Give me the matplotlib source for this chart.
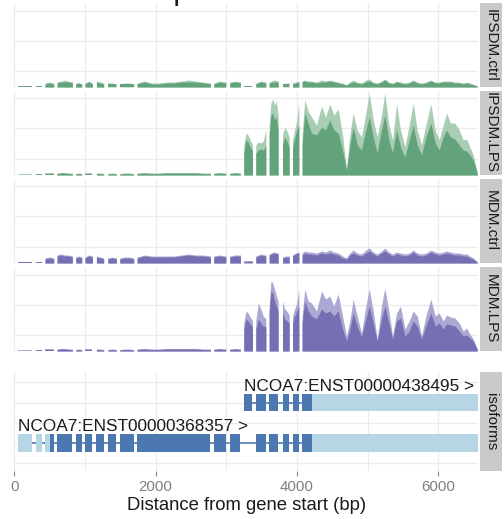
import numpy as np
import matplotlib.pyplot as plt

plt.rcParams['font.family'] = ['Liberation Sans', 'DejaVu Sans']

# covered exon blocks (bp from gene start), last exon handled separately
block_starts = [54, 304, 436, 606, 870, 1002, 1163, 1323, 1493, 1738, 2823, 3049, 3247, 3417, 3606, 3795, 3937]
block_ends = [258, 389, 559, 823, 955, 1106, 1266, 1446, 1691, 2776, 2993, 3200, 3370, 3559, 3733, 3889, 4026]

# knots along the last exon (3' UTR)
utr_pos = [4072, 4110, 4157, 4205, 4276, 4347, 4403, 4464, 4521, 4582, 4644, 4700, 4747, 4794, 4851,
           4912, 4974, 5021, 5078, 5134, 5195, 5242, 5299, 5351, 5408, 5464, 5526, 5587, 5644, 5700,
           5761, 5823, 5893, 5955, 6011, 6068, 6115, 6172, 6233, 6294, 6351, 6398, 6445, 6493, 6549]

# coverage per sample track: lower = shared core, upper = max replicate
ipsdm_ctrl_lower = [[1, 1, 1], [1, 1], [3, 4, 3], [4, 5, 5, 5, 4], [3, 4, 3], [3, 5, 3], [5, 4, 3], [3, 3, 3],
                    [3, 3, 3, 3], [3, 5, 3, 3, 4, 4, 5, 5, 5, 4, 3], [3, 5, 4], [4, 5, 4], [1, 1],
                    [3, 5, 4], [4, 5, 5], [3, 3, 3], [3, 4, 5]]
ipsdm_ctrl_upper = [[1, 1, 1], [1, 1], [4, 5, 4], [5, 6, 7, 6, 5], [4, 4, 3], [4, 6, 4], [6, 5, 4], [4, 4, 3],
                    [3, 4, 4, 3], [4, 6, 4, 4, 5, 5, 6, 7, 6, 5, 4], [4, 6, 5], [5, 6, 5], [1, 1],
                    [4, 6, 5], [5, 7, 6], [3, 4, 4], [4, 5, 6]]
ipsdm_ctrl_utr_lower = [5, 6, 5, 5, 4, 5, 5, 6, 5, 4, 3, 2, 4, 5, 4, 3, 5, 6, 4, 3, 5, 7, 4, 3, 5,
                        4, 3, 4, 6, 4, 3, 4, 6, 4, 4, 5, 5, 5, 4, 4, 3, 4, 3, 2, 1]
ipsdm_ctrl_utr_upper = [6, 7, 6, 6, 5, 7, 6, 7, 6, 5, 4, 2, 5, 7, 5, 4, 7, 8, 5, 4, 6, 8, 5, 4, 6,
                        5, 4, 5, 7, 5, 4, 5, 7, 5, 5, 6, 6, 6, 5, 5, 4, 5, 4, 3, 1]

ipsdm_lps_lower = [[0.5, 0.5, 0.5], [1, 1], [1.5, 1.5, 1.5], [1.5, 2, 2, 1.5, 1.5], [1, 1.5, 1], [1.5, 1.5, 1.5],
                   [1.5, 1.5, 1], [1, 1.5, 1], [1, 1.5, 1.5, 1], [1.5, 2, 1.5, 1.5, 2, 2, 2, 2, 2, 1.5, 1.5],
                   [1.5, 2, 1.5], [1.5, 2, 1.5], [22, 35, 33, 28, 24], [22, 25, 26, 25, 30],
                   [40, 60, 62, 55, 58, 45], [30, 38, 34, 28], [28, 36, 45, 50]]
ipsdm_lps_upper = [[1, 1, 1], [1, 1], [2, 2, 2], [2, 2.5, 2.5, 2, 2], [1.5, 2, 1.5], [2, 2, 2],
                   [2, 2, 1.5], [1.5, 2, 1.5], [1.5, 2, 2, 1.5], [2, 2.5, 2, 2, 2.5, 2.5, 2.5, 2.5, 2.5, 2, 2],
                   [2, 2.5, 2], [2, 2.5, 2], [30, 42, 40, 35, 30], [30, 33, 32, 34, 46],
                   [50, 72, 76, 70, 74, 60], [40, 48, 44, 38], [35, 45, 55, 72]]
ipsdm_lps_utr_lower = [30, 62, 52, 42, 40, 48, 45, 55, 45, 42, 25, 5, 30, 48, 30, 25, 45, 58, 38, 22, 45, 60, 35,
                       22, 45, 28, 18, 35, 50, 30, 20, 38, 52, 32, 25, 38, 45, 38, 36, 30, 25, 24, 20, 15, 2]
ipsdm_lps_utr_upper = [40, 75, 64, 58, 50, 69, 58, 71, 60, 66, 40, 6, 40, 62, 45, 38, 62, 82, 55, 38, 60, 82, 50,
                       35, 71, 45, 28, 50, 72, 45, 30, 50, 71, 45, 35, 50, 62, 52, 52, 45, 35, 36, 28, 20, 2]

mdm_ctrl_lower = [[1, 1, 1], [1, 1], [4, 5, 4], [7, 8, 7, 7, 6], [5, 6, 5], [5, 7, 6], [6, 5, 4], [4, 5, 4],
                  [4, 5, 5, 4], [5, 7, 6, 6, 6, 6, 7, 8, 7, 7, 6], [6, 7, 6], [6, 7, 7], [1, 2],
                  [6, 8, 7], [8, 10, 9], [5, 6, 6], [7, 9, 10]]
mdm_ctrl_upper = [[1, 1, 1], [1, 1], [5, 6, 5], [8, 9, 8, 8, 7], [6, 7, 6], [6, 8, 7], [7, 6, 5], [5, 6, 5],
                  [5, 6, 6, 5], [6, 8, 7, 7, 7, 7, 8, 9, 8, 8, 7], [7, 8, 7], [7, 8, 8], [2, 2],
                  [7, 9, 8], [9, 11, 10], [6, 7, 7], [8, 10, 11]]
mdm_ctrl_utr_lower = [8, 10, 9, 9, 8, 10, 9, 10, 9, 8, 5, 4, 8, 10, 8, 7, 10, 12, 9, 7, 10, 12, 9, 7, 9,
                      8, 7, 8, 11, 8, 7, 8, 11, 9, 8, 9, 10, 9, 8, 8, 7, 7, 5, 4, 1]
mdm_ctrl_utr_upper = [10, 12, 11, 11, 10, 12, 11, 13, 11, 10, 7, 5, 10, 13, 10, 9, 13, 15, 11, 9, 12, 15, 11, 9, 11,
                      10, 9, 10, 13, 10, 9, 10, 13, 11, 10, 11, 12, 11, 10, 10, 9, 9, 7, 5, 1]

mdm_lps_lower = [[0.5, 0.5, 0.5], [1, 1], [1.5, 1.5, 1.5], [1.5, 2, 2, 1.5, 1.5], [1, 1.5, 1], [1.5, 1.5, 1.5],
                 [1.5, 1.5, 1], [1, 1.5, 1], [1, 1.5, 1.5, 1], [1.5, 2, 1.5, 1.5, 2, 2, 2, 2, 2, 1.5, 1.5],
                 [1.5, 2, 1.5], [1.5, 2, 1.5], [22, 32, 30, 27, 24], [22, 32, 28, 25, 24],
                 [38, 60, 58, 50, 45, 40], [38, 32, 30, 28], [28, 35, 40, 45]]
mdm_lps_upper = [[1, 1, 1], [1, 1], [2, 2, 2], [2, 2.5, 2.5, 2, 2], [1.5, 2, 1.5], [2, 2, 2],
                 [2, 2, 1.5], [1.5, 2, 1.5], [1.5, 2, 2, 1.5], [2, 2.5, 2, 2, 2.5, 2.5, 2.5, 2.5, 2.5, 2, 2],
                 [2, 2.5, 2], [2, 2.5, 2], [28, 40, 38, 34, 30], [30, 48, 42, 35, 32],
                 [45, 70, 68, 62, 55, 50], [50, 42, 40, 36], [35, 42, 48, 62]]
mdm_lps_utr_lower = [28, 50, 40, 35, 32, 42, 38, 40, 35, 40, 22, 10, 22, 38, 25, 14, 32, 45, 28, 10, 32, 45, 28,
                     12, 30, 33, 15, 20, 30, 25, 12, 25, 38, 25, 28, 22, 27, 26, 25, 20, 15, 16, 13, 10, 2]
mdm_lps_utr_upper = [35, 62, 50, 48, 40, 60, 52, 55, 45, 57, 35, 15, 30, 52, 35, 18, 45, 62, 40, 12, 45, 63, 40,
                     15, 38, 45, 22, 30, 40, 35, 15, 35, 52, 35, 38, 30, 36, 34, 33, 28, 20, 23, 17, 12, 2]

track_names = ['IPSDM.ctrl', 'IPSDM.LPS', 'MDM.ctrl', 'MDM.LPS']

# isoform models (start, end) in bp
tx1_name = 'NCOA7:ENST00000368357 >'
tx1_utr = [(54, 258), (304, 389), (436, 502), (4214, 6554)]
tx1_cds = [(502, 559), (606, 823), (870, 955), (1002, 1106), (1163, 1266), (1323, 1446), (1493, 1691),
           (1738, 2776), (2823, 2993), (3049, 3200), (3417, 3559), (3606, 3733), (3795, 3889),
           (3937, 4026), (4072, 4214)]
tx2_name = 'NCOA7:ENST00000438495 >'
tx2_utr = [(4214, 6554)]
tx2_cds = [(3247, 3370), (3417, 3559), (3606, 3733), (3795, 3889), (3937, 4026), (4072, 4214)]

W, H = 504, 519
X0, X1 = 14.2, 478
XMAX = 6560
GRID = '#EBEBEB'
STRIP = '#C9C9C9'

green_dark, green_light = '#62A37C', '#A8CDB3'
purple_dark, purple_light = '#7570B3', '#ABA8D3'
cds_col, utr_col = '#4C78B1', '#B6D6E6'


def px_axes(fig, left, top, right, bottom, **kw):
    return fig.add_axes([left / W, 1 - bottom / H, (right - left) / W, (bottom - top) / H], **kw)


def add_strip(fig, top, bottom, label):
    sax = px_axes(fig, 480, top, 502, bottom)
    sax.set_facecolor(STRIP)
    sax.set_xticks([])
    sax.set_yticks([])
    for s in sax.spines.values():
        s.set_visible(False)
    sax.text(0.5, 0.5, label, rotation=270, ha='center', va='center',
             fontsize=11, color='#1A1A1A', transform=sax.transAxes)


def style_panel(ax):
    ax.set_xlim(0, XMAX)
    ax.set_xticks([0, 2000, 4000, 6000])
    ax.set_xticks([1000, 3000, 5000], minor=True)
    ax.grid(which='both', color=GRID, lw=0.9, zorder=0)
    ax.set_axisbelow(True)
    for s in ax.spines.values():
        s.set_visible(False)
    ax.tick_params(which='both', length=0, labelbottom=False, labelleft=False)


fig = plt.figure(figsize=(W / 100, H / 100), dpi=100)

# title sits above the canvas, only a descender reaches into the picture
fig.text(190 / W, 1 + 0.7 / H, 'NCOA7 locus map', ha='right', va='baseline', fontsize=22, color='#1A1A1A')

tracks = [
    (ipsdm_ctrl_lower, ipsdm_ctrl_upper, ipsdm_ctrl_utr_lower, ipsdm_ctrl_utr_upper, green_dark, green_light),
    (ipsdm_lps_lower, ipsdm_lps_upper, ipsdm_lps_utr_lower, ipsdm_lps_utr_upper, green_dark, green_light),
    (mdm_ctrl_lower, mdm_ctrl_upper, mdm_ctrl_utr_lower, mdm_ctrl_utr_upper, purple_dark, purple_light),
    (mdm_lps_lower, mdm_lps_upper, mdm_lps_utr_lower, mdm_lps_utr_upper, purple_dark, purple_light),
]

tops = [3, 91, 179, 267]
for top, name, (lo_b, up_b, lo_u, up_u, dark, light) in zip(tops, track_names, tracks):
    ax = px_axes(fig, X0, top, X1, top + 84)
    style_panel(ax)
    ax.set_ylim(0, 84)
    ax.set_yticks([16, 46.5, 76.5])
    for s, e, lo, up in zip(block_starts, block_ends, lo_b, up_b):
        ax.fill_between(np.linspace(s, e, len(up)), 0, up, color=light, lw=0, zorder=2)
        ax.fill_between(np.linspace(s, e, len(lo)), 0, lo, color=dark, lw=0, zorder=3)
    ax.fill_between(utr_pos, 0, up_u, color=light, lw=0, zorder=2)
    ax.fill_between(utr_pos, 0, lo_u, color=dark, lw=0, zorder=3)
    add_strip(fig, top, top + 84, name)

# isoform panel
ax = px_axes(fig, X0, 372, X1, 471)
style_panel(ax)
ax.set_ylim(0.3, 2.76)
ax.set_yticks([0.5, 1, 1.5, 2, 2.5])
half = 0.22
for row, name, utr, cds in [(1, tx1_name, tx1_utr, tx1_cds), (2, tx2_name, tx2_utr, tx2_cds)]:
    start = min(s for s, e in utr + cds)
    end = max(e for s, e in utr + cds)
    ax.plot([start, end], [row, row], color='#5F87BE', lw=1.3, zorder=2, solid_capstyle='butt')
    ax.broken_barh([(s, e - s) for s, e in utr], (row - half, 2 * half), color=utr_col, lw=0, zorder=3)
    ax.broken_barh([(s, e - s) for s, e in cds], (row - half, 2 * half), color=cds_col, lw=0, zorder=3)
    ax.text(start, row + half + 0.07, name, ha='left', va='baseline', fontsize=12.4, color='#1A1A1A', zorder=4)

ax.tick_params(which='major', axis='x', length=3.6, width=0.8, color='#8A8A8A',
               labelbottom=True, labelsize=10.8, labelcolor='#7F7F7F', pad=3)
add_strip(fig, 372, 471, 'isoforms')

fig.text((X0 + X1) / 2 / W, 1 - 505 / H, 'Distance from gene start (bp)', ha='center', va='center',
         fontsize=13.3, color='#1A1A1A')

fig.savefig('out.png', dpi=100)
